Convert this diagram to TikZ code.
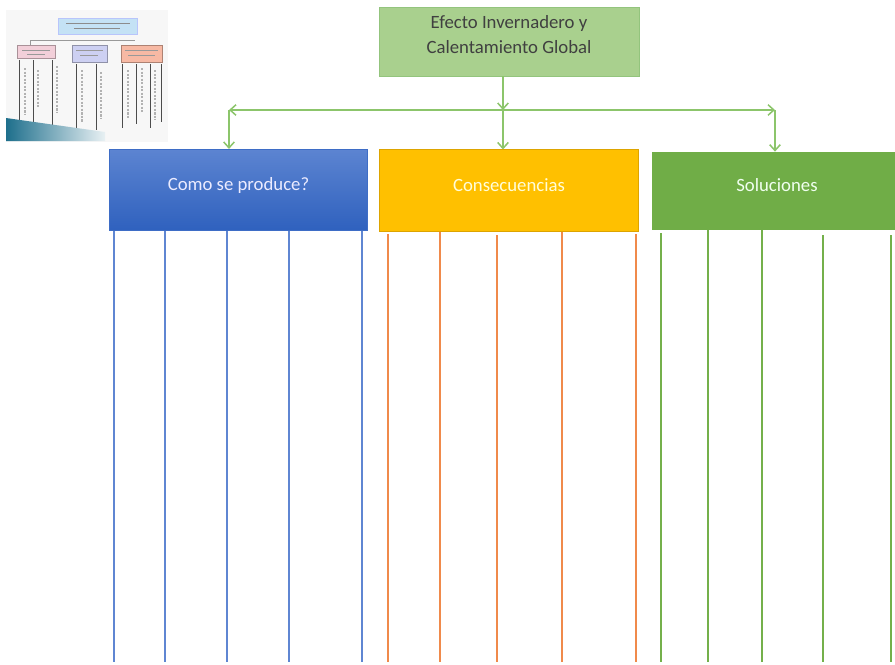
\documentclass[tikz,border=0pt]{standalone}
\usepackage{fontspec}
\setmainfont{Carlito}
\usepackage{tikz}
\usetikzlibrary{positioning,arrows.meta}

\definecolor{hdgreen}{HTML}{A9D08E}
\definecolor{hdgreenline}{HTML}{93C47D}
\definecolor{arrowgreen}{HTML}{8CC56B}
\definecolor{boxblue}{HTML}{3E6DC6}
\definecolor{boxbluetop}{HTML}{5C84D1}
\definecolor{boxbluebot}{HTML}{2F61BE}
\definecolor{barblue}{HTML}{5F86D2}
\definecolor{boxorange}{HTML}{FFC000}
\definecolor{boxorangeline}{HTML}{DDA400}
\definecolor{barorange}{HTML}{F08A4B}
\definecolor{boxgreen}{HTML}{70AD47}
\definecolor{bargreen}{HTML}{74B04B}
\definecolor{thumbblue}{HTML}{C4E2F5}
\definecolor{thumbpink}{HTML}{F2CFD9}
\definecolor{thumblav}{HTML}{CDD0F2}
\definecolor{thumbsalmon}{HTML}{F7B9A4}
\definecolor{thumbteal}{HTML}{1E6F8C}

\begin{document}
\begin{tikzpicture}[x=0.03cm,y=-0.03cm]
\tikzstyle{every node}+=[font=\fontsize{16}{22}\selectfont]
\tikzstyle{topic}=[draw=hdgreenline,fill=hdgreen,text=black!75,align=center,minimum width=7.8cm,minimum height=2.07cm]
\tikzstyle{branch}=[minimum width=7.76cm,minimum height=2.44cm,line width=0.6pt,text depth=10pt]
\tikzstyle{link}=[draw=arrowgreen,line width=1.3pt,-{Straight Barb[length=5pt,width=9pt]}]
\tikzstyle{bar}=[line width=2.3pt]
\useasboundingbox (0,0) rectangle (895,664);

\begin{scope}
\fill[black!3] (6,10) rectangle (168,142);
\draw[thumbblue!70!blue!60,fill=thumbblue] (58,18) rectangle (137,34);
\draw[black!45,line width=0.6pt] (66,23) -- (130,23) (74,28) -- (120,28);
\draw[black!40,line width=0.6pt] (30,45) -- (30,40) -- (135,40);
\draw[thumbpink!70!black,fill=thumbpink] (17,45) rectangle (55,58);
\draw[thumblav!70!black,fill=thumblav] (72,45) rectangle (107,62);
\draw[thumbsalmon!70!black,fill=thumbsalmon] (121,45) rectangle (162,62);
\draw[black!40,line width=0.4pt] (22,50) -- (50,50) (27,54) -- (45,54)
  (76,50) -- (103,50) (80,55) -- (98,55) (125,50) -- (158,50) (128,55) -- (155,55);
\foreach \x/\t/\b in {19/60/126,33/60/122,52/60/128,76/64/132,96/64/130,122/64/128,136/64/124,150/64/128,161/64/122}
  \draw[black!70,line width=0.8pt] (\x,\t) -- (\x,\b);
\foreach \x/\t/\b in {25/68/115,38/70/108,57/66/112,82/70/122,101/72/118,128/70/118,142/68/112,155/70/120}
  \draw[black!30,line width=1.2pt,dash pattern=on 2pt off 1pt] (\x,\t) -- (\x,\b);
\shade[left color=thumbteal,right color=thumbteal!10] (6,118) -- (105,132) -- (105,141) -- (6,141) -- cycle;
\end{scope}

\node[topic] (topic) at (509,41.5) {Efecto Invernadero y\\Calentamiento Global\\[-10pt]};

\node[branch,draw=boxblue,top color=boxbluetop,bottom color=boxbluebot,text=blue!8] (como) at (238.5,190) {Como se produce?};
\node[branch,draw=boxorangeline,fill=boxorange,text=yellow!15] (cons) at (509,190.5) {Consecuencias};
\node[branch,draw=boxgreen,fill=boxgreen,text=green!6,minimum width=7.5cm,minimum height=2.31cm] (sol) at (777,190.5) {Soluciones};

\coordinate (hub) at (503,110);
\coordinate (hubl) at (229,110);
\coordinate (hubr) at (775,110);
\coordinate (base) at (0,662);

\draw[link] (hub |- topic.south) -- (hub);
\draw[link] (hub) -- (hubl);
\draw[link] (hub) -- (hubr);
\draw[link] (hubl) -- (hubl |- como.north);
\draw[link] (hub) -- (hub |- cons.north);
\draw[link] (hubr) -- (hubr |- sol.north);

\foreach \x in {114,165,227,289,362}
  \draw[bar,draw=barblue] (\x,0 |- como.south) -- (\x,0 |- base);
\foreach \x/\t in {388/234,440/232,497/235,562/232,636/234}
  \draw[bar,draw=barorange] (\x,\t) -- (\x,0 |- base);
\foreach \x/\t in {661/233,708/230,762/230,823/235,891/235}
  \draw[bar,draw=bargreen] (\x,\t) -- (\x,0 |- base);
\end{tikzpicture}
\end{document}
